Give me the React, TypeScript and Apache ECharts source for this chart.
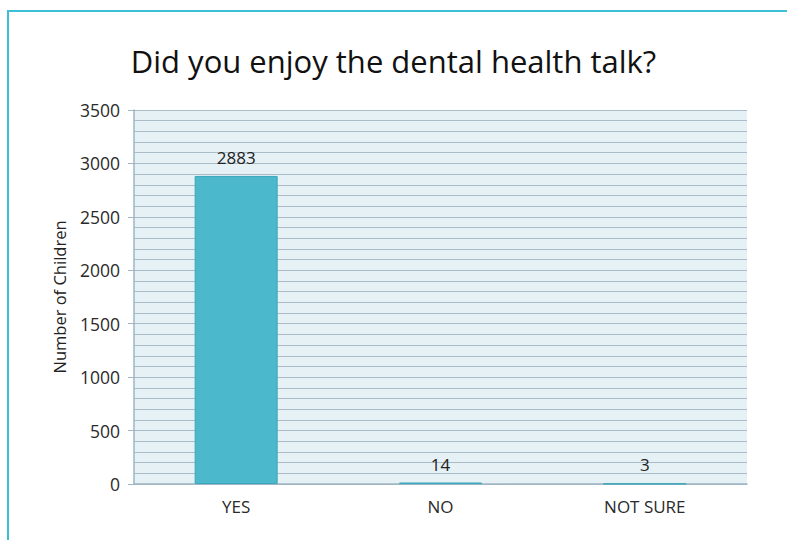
import React, { useEffect, useRef } from "react";
import * as echarts from "echarts";

const categories = ["YES", "NO", "NOT SURE"];
const values = [2883, 14, 3];
const yTicks = [0, 500, 1000, 1500, 2000, 2500, 3000, 3500];
const titleText = "Did you enjoy the dental health talk?";
const yAxisName = "Number of Children";

export default function App() {
  const ref = useRef<HTMLDivElement>(null);
  useEffect(() => {
    document.body.style.margin = "0";
    const chart = echarts.init(ref.current!, undefined, { renderer: "svg" });
    const font = "'Open Sans', 'Noto Sans', sans-serif";
    chart.setOption({
      animation: false,
      backgroundColor: "#ffffff",
      textStyle: { fontFamily: font },
      title: {
        text: titleText,
        left: "center",
        top: 40,
        textStyle: { fontSize: 31, fontWeight: "normal", color: "#111", fontFamily: font },
      },
      graphic: [
        {
          type: "rect",
          shape: { x: 8, y: 11, width: 900, height: 700 },
          style: { fill: "none", stroke: "#3cc0d6", lineWidth: 2 },
          silent: true,
        },
      ],
      grid: {
        left: 134,
        right: 40,
        top: 110,
        bottom: 56,
        show: true,
        backgroundColor: "#e6f1f6",
        borderWidth: 0,
      },
      xAxis: {
        type: "category",
        data: categories,
        axisLine: { show: true, lineStyle: { color: "#9fb5c2", width: 1.5 } },
        axisTick: { show: false },
        axisLabel: { fontSize: 17, color: "#2a2a2a", margin: 14, fontFamily: font },
      },
      yAxis: {
        type: "value",
        min: yTicks[0],
        max: yTicks[yTicks.length - 1],
        interval: 500,
        name: yAxisName,
        nameLocation: "middle",
        nameGap: 66,
        nameTextStyle: { fontSize: 16.5, color: "#222", fontFamily: font },
        axisLine: { show: true, lineStyle: { color: "#9fb5c2", width: 1.5 } },
        axisTick: { show: true, length: 6, lineStyle: { color: "#9fb5c2" } },
        axisLabel: {
          fontSize: 17.5,
          color: "#2a2a2a",
          margin: 14,
          fontFamily: font,
          formatter: (v: number) => String(v),
        },
        splitLine: { show: true, lineStyle: { color: "#a9bcc8", width: 1.2 } },
        minorTick: { show: false, splitNumber: 5 },
        minorSplitLine: { show: true, lineStyle: { color: "#a9bcc8", width: 1.2 } },
      },
      series: [
        {
          type: "bar",
          data: values,
          barWidth: 83,
          itemStyle: { color: "#4bb8cc", borderColor: "#3aa6bb", borderWidth: 1 },
          label: {
            show: true,
            position: "top",
            distance: 10,
            fontSize: 17,
            color: "#222",
            fontFamily: font,
          },
        },
      ],
    });
    return () => chart.dispose();
  }, []);
  return <div ref={ref} style={{ width: 787, height: 540 }} />;
}
